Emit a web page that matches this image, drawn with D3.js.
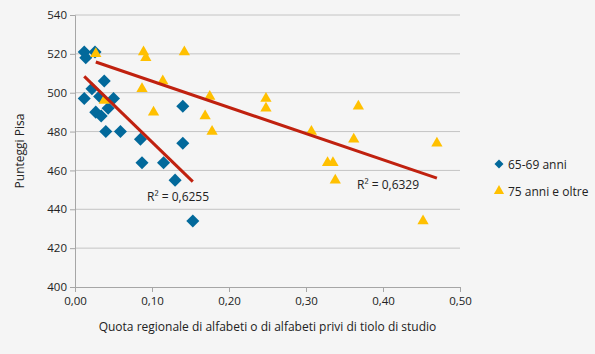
<!DOCTYPE html>
<html>
<head>
<meta charset="utf-8">
<script src="https://cdn.jsdelivr.net/npm/d3@7"></script>
<style>
  body { margin: 0; background: #f5f5f5; }
  svg { display: block; font-family: "Open Sans", "Noto Sans", sans-serif; }
</style>
</head>
<body>
<div id="chart"></div>
<script>
// 65-69 anni
var quota6569 = [0.012, 0.026, 0.014, 0.038, 0.022, 0.012, 0.032, 0.050, 0.027, 0.034,
                 0.043, 0.040, 0.059, 0.085, 0.140, 0.140, 0.087, 0.115, 0.130, 0.153];
var pisa6569  = [521, 521, 518, 506, 502, 497, 498, 497, 490, 488,
                 492, 480, 480, 476, 493, 474, 464, 464, 455, 434];
// 75 anni e oltre
var quota75 = [0.027, 0.089, 0.092, 0.142, 0.114, 0.087, 0.175, 0.038, 0.102, 0.169, 0.178,
               0.248, 0.248, 0.368, 0.307, 0.362, 0.470, 0.328, 0.335, 0.338, 0.452];
var pisa75  = [520, 521, 518, 521, 506, 502, 498, 496, 490, 488, 480,
               497, 492, 493, 480, 476, 474, 464, 464, 455, 434];

// trend line end points
var trend6569 = { x: [0.012, 0.153], y: [508.4, 454.2], r2: "R² = 0,6255" };
var trend75   = { x: [0.027, 0.470], y: [515.8, 456.0], r2: "R² = 0,6329" };

var xTicks = [0, 0.1, 0.2, 0.3, 0.4, 0.5];
var yTicks = [400, 420, 440, 460, 480, 500, 520, 540];
var seriesNames = ["65-69 anni", "75 anni e oltre"];

var width = 595, height = 354;
var margin = { left: 75, right: 135, top: 15, bottom: 67 };

var svg = d3.select("#chart").append("svg")
    .attr("width", width)
    .attr("height", height);

svg.append("rect").attr("width", width).attr("height", height).attr("fill", "#f5f5f5");

var x = d3.scaleLinear().domain([0, 0.5]).range([margin.left, width - margin.right]);
var y = d3.scaleLinear().domain([400, 540]).range([height - margin.bottom, margin.top]);

var fmt = function (d) { return d3.format(".2f")(d).replace(".", ","); };

// gridlines
svg.append("g")
    .selectAll("line")
    .data(yTicks.slice(1))
    .enter().append("line")
    .attr("x1", x(0)).attr("x2", x(0.5))
    .attr("y1", function (d) { return y(d); })
    .attr("y2", function (d) { return y(d); })
    .attr("stroke", "#c4c4c4").attr("stroke-width", 1);

// axes
var xAxis = svg.append("g")
    .attr("transform", "translate(0," + y(400) + ")")
    .call(d3.axisBottom(x).tickValues(xTicks).tickFormat(fmt).tickSize(5).tickPadding(5));
var yAxis = svg.append("g")
    .attr("transform", "translate(" + x(0) + ",0)")
    .call(d3.axisLeft(y).tickValues(yTicks).tickSize(5).tickPadding(3));

[xAxis, yAxis].forEach(function (a) {
    a.select(".domain").attr("stroke", "#a6a6a6");
    a.selectAll(".tick line").attr("stroke", "#a6a6a6");
    a.selectAll("text").attr("fill", "#222").attr("font-size", 11.5)
        .attr("font-family", "'Open Sans', sans-serif");
});

// axis titles
svg.append("text")
    .attr("x", (x(0) + x(0.5)) / 2).attr("y", 331)
    .attr("text-anchor", "middle").attr("font-size", 12).attr("fill", "#222")
    .text("Quota regionale di alfabeti o di alfabeti privi di tiolo di studio");
svg.append("text")
    .attr("transform", "translate(24," + (y(470)) + ") rotate(-90)")
    .attr("text-anchor", "middle").attr("font-size", 12).attr("fill", "#222")
    .text("Punteggi Pisa");

var diamond = d3.symbol().type(d3.symbolSquare).size(85);
var triangle = d3.symbol().type(d3.symbolTriangle).size(55);

// 65-69 points
svg.append("g").selectAll("path")
    .data(d3.range(quota6569.length))
    .enter().append("path")
    .attr("d", diamond)
    .attr("transform", function (i) {
        return "translate(" + x(quota6569[i]) + "," + y(pisa6569[i]) + ") rotate(45)";
    })
    .attr("fill", "#02699b");

// 75+ points
svg.append("g").selectAll("path")
    .data(d3.range(quota75.length))
    .enter().append("path")
    .attr("d", triangle)
    .attr("transform", function (i) {
        return "translate(" + x(quota75[i]) + "," + y(pisa75[i]) + ")";
    })
    .attr("fill", "#ffc000");

// trend lines
var line = d3.line();
[trend6569, trend75].forEach(function (t) {
    svg.append("path")
        .attr("d", line([[x(t.x[0]), y(t.y[0])], [x(t.x[1]), y(t.y[1])]]))
        .attr("stroke", "#c0210f").attr("stroke-width", 3).attr("fill", "none");
});

// R2 labels
svg.append("text").attr("x", 147).attr("y", 201).attr("font-size", 12).attr("fill", "#222")
    .text(trend6569.r2);
svg.append("text").attr("x", 357).attr("y", 189).attr("font-size", 12).attr("fill", "#222")
    .text(trend75.r2);

// legend
var legend = svg.append("g").attr("transform", "translate(499,164)");
legend.append("path").attr("d", d3.symbol().type(d3.symbolSquare).size(40))
    .attr("transform", "rotate(45)").attr("fill", "#02699b");
legend.append("text").attr("x", 9).attr("y", 4.5).attr("font-size", 12).attr("fill", "#222")
    .text(seriesNames[0]);
legend.append("path").attr("d", d3.symbol().type(d3.symbolTriangle).size(45))
    .attr("transform", "translate(0,27)").attr("fill", "#ffc000");
legend.append("text").attr("x", 9).attr("y", 31.5).attr("font-size", 12).attr("fill", "#222")
    .text(seriesNames[1]);
</script>
</body>
</html>
